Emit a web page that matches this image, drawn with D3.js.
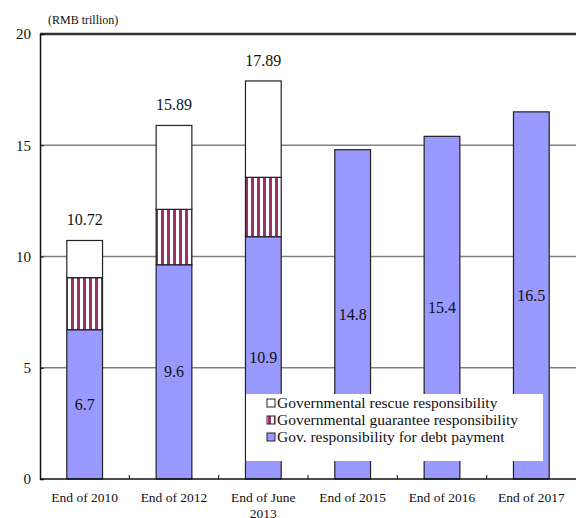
<!DOCTYPE html>
<html>
<head>
<meta charset="utf-8">
<script src="https://cdnjs.cloudflare.com/ajax/libs/d3/7.8.5/d3.min.js"></script>
<style>
  body { margin: 0; background: #fff; }
  svg text { font-family: 'Liberation Serif', serif !important; fill: #111; }
</style>
</head>
<body>
<div id="chart"></div>
<script>
// data (RMB trillion)
var categories = ["End of 2010", "End of 2012", "End of June\n2013", "End of 2015", "End of 2016", "End of 2017"];
var debtPay   = [6.71, 9.63, 10.89, 14.8, 15.4, 16.5];
var guarantee = [2.34, 2.49, 2.67, 0, 0, 0];
var rescue    = [1.67, 3.77, 4.33, 0, 0, 0];
var debtLabels  = ["6.7", "9.6", "10.9", "14.8", "15.4", "16.5"];
var totalLabels = ["10.72", "15.89", "17.89", "", "", ""];
var yTicks = [0, 5, 10, 15, 20];
var legendNames = ["Governmental rescue responsibility", "Governmental guarantee responsibility", "Gov. responsibility for debt payment"];

var W = 576, H = 518;
var margin = {top: 34, right: 0, bottom: 39, left: 40}
  , width = W - margin.left - margin.right
  , height = H - margin.top - margin.bottom;

var svg = d3.select("#chart").append("svg")
    .attr("width", W)
    .attr("height", H)
    .style("font-family", "'Liberation Serif', serif");

// stripe pattern for guarantee
var defs = svg.append("defs");
var pat = defs.append("pattern")
    .attr("id", "stripes")
    .attr("patternUnits", "userSpaceOnUse")
    .attr("width", 6).attr("height", 6);
pat.append("rect").attr("width", 6).attr("height", 6).attr("fill", "#fff");
pat.append("rect").attr("x", 1).attr("width", 3).attr("height", 6).attr("fill", "#993366");

var g = svg.append("g")
    .attr("transform", "translate(" + margin.left + "," + margin.top + ")");

var x = d3.scaleBand()
    .domain(d3.range(categories.length))
    .range([0, width])
    .padding(0);

var y = d3.scaleLinear()
    .domain([0, 20])
    .range([height, 0]);

var barW = x.bandwidth() * 0.4;

// gridlines
g.selectAll(".grid")
    .data(yTicks.filter(function(d) { return d > 0 && d < 20; }))
    .enter().append("line")
    .attr("x1", 0).attr("x2", width)
    .attr("y1", function(d) { return y(d); })
    .attr("y2", function(d) { return y(d); })
    .attr("stroke", "#808080")
    .attr("stroke-width", 1.5);

// top border
g.append("line")
    .attr("x1", 0).attr("x2", width)
    .attr("y1", y(20)).attr("y2", y(20))
    .attr("stroke", "#333")
    .attr("stroke-width", 2.5);

// stacked bars
var series = [
  {vals: debtPay, base: function(i) { return 0; }, fill: "#9999ff"},
  {vals: guarantee, base: function(i) { return debtPay[i]; }, fill: "url(#stripes)"},
  {vals: rescue, base: function(i) { return debtPay[i] + guarantee[i]; }, fill: "#fff"}
];

series.forEach(function(s) {
  g.selectAll(null)
    .data(s.vals)
    .enter().filter(function(d) { return d > 0; })
    .append("rect")
    .attr("x", function(d, i) { return x(i) + (x.bandwidth() - barW) / 2; })
    .attr("width", barW)
    .attr("y", function(d, i) { return y(s.base(i) + d); })
    .attr("height", function(d, i) { return y(s.base(i)) - y(s.base(i) + d); })
    .attr("fill", s.fill)
    .attr("stroke", "#222")
    .attr("stroke-width", 1.2);
});

// labels inside blue bars
g.selectAll(".dlab")
    .data(debtPay)
    .enter().append("text")
    .attr("x", function(d, i) { return x(i) + x.bandwidth() / 2; })
    .attr("y", function(d) { return y(d / 2); })
    .attr("dy", "0.35em")
    .attr("text-anchor", "middle")
    .style("font-size", "16px")
    .text(function(d, i) { return debtLabels[i]; });

// totals above bars
g.selectAll(".tlab")
    .data(totalLabels)
    .enter().append("text")
    .attr("x", function(d, i) { return x(i) + x.bandwidth() / 2; })
    .attr("y", function(d, i) { return y(debtPay[i] + guarantee[i] + rescue[i]) - 21; })
    .attr("dy", "0.35em")
    .attr("text-anchor", "middle")
    .style("font-size", "16px")
    .text(function(d) { return d; });

// y axis
var yAxis = g.append("g")
    .call(d3.axisLeft(y).tickValues(yTicks).tickSize(-4).tickPadding(9));
yAxis.attr("font-family", null);
yAxis.select(".domain").attr("stroke", "#111").attr("stroke-width", 1.5);
yAxis.selectAll(".tick line").attr("stroke", "#111");
yAxis.selectAll("text").style("font-size", "15px").attr("fill", "#111");

// x axis
var xAxisG = g.append("g").attr("transform", "translate(0," + height + ")");
xAxisG.append("line")
    .attr("x1", 0).attr("x2", width)
    .attr("stroke", "#111").attr("stroke-width", 1.5);
xAxisG.selectAll(".xt")
    .data(d3.range(1, categories.length))
    .enter().append("line")
    .attr("x1", function(d) { return x(d); })
    .attr("x2", function(d) { return x(d); })
    .attr("y1", 0).attr("y2", -4)
    .attr("stroke", "#111");
xAxisG.selectAll(".xl")
    .data(categories)
    .enter().append("text")
    .attr("x", function(d, i) { return x(i) + x.bandwidth() / 2; })
    .attr("y", 23)
    .attr("text-anchor", "middle")
    .style("font-size", "13.5px")
    .each(function(d) {
      var self = d3.select(this);
      d.split("\n").forEach(function(part, k) {
        self.append("tspan")
          .attr("x", self.attr("x"))
          .attr("dy", k === 0 ? 0 : "1.15em")
          .text(part);
      });
    });

// unit label
svg.append("text")
    .attr("x", 48).attr("y", 24)
    .style("font-size", "12px")
    .text("(RMB trillion)");

// legend
var leg = svg.append("g").attr("transform", "translate(246,394)");
leg.append("rect")
    .attr("width", 297).attr("height", 67)
    .attr("fill", "#fff");
var legFills = ["#fff", "url(#stripes)", "#9999ff"];
legendNames.forEach(function(name, i) {
  var row = leg.append("g").attr("transform", "translate(21," + (9 + i * 17) + ")");
  row.append("rect")
    .attr("width", 8).attr("height", 8)
    .attr("y", -4)
    .attr("fill", legFills[i])
    .attr("stroke", "#222");
  row.append("text")
    .attr("x", 10).attr("dy", "0.35em")
    .style("font-size", "15.5px")
    .text(name);
});
</script>
</body>
</html>
